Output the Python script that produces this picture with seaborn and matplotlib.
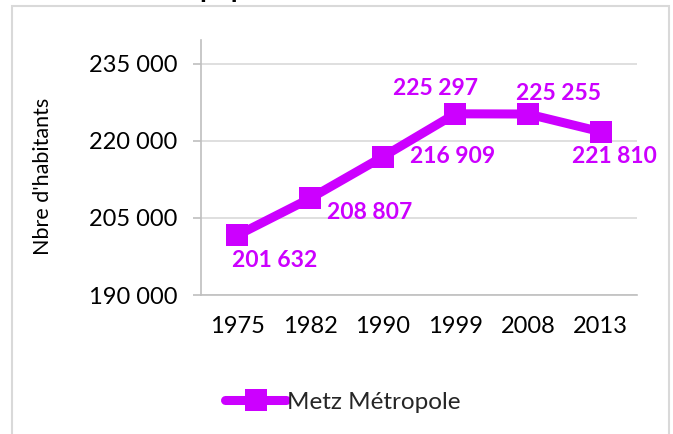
import matplotlib
matplotlib.use("Agg")
import matplotlib.pyplot as plt
import seaborn as sns
import pandas as pd
import numpy as np
from matplotlib.patches import Rectangle
from matplotlib.ticker import FuncFormatter, FixedLocator

# Data
years = ["1975", "1982", "1990", "1999", "2008", "2013"]
habitants = [201632, 208807, 216909, 225297, 225255, 221810]
series_name = "Metz Métropole"
y_ticks = [190000, 205000, 220000, 235000]
y_label = "Nbre d'habitants"
title = "Evolution de la population"

MAGENTA = "#CC00FF"
GRID = "#D9D9D9"
AXIS = "#BFBFBF"


def fmt(v):
    return f"{int(round(v)):,}".replace(",", " ")


sns.set_style("white")
plt.rcParams["font.family"] = ["Lato", "DejaVu Sans"]

df = pd.DataFrame({"pos": np.arange(len(years)), "annee": years, "habitants": habitants})

fig = plt.figure(figsize=(6.73, 4.34), dpi=100)
ax = fig.add_axes([201 / 673, 1 - 295 / 434, (637 - 201) / 673, (295 - 40) / 434])

sns.lineplot(data=df, x="pos", y="habitants", ax=ax, color=MAGENTA, linewidth=6.5,
             marker="s", markersize=16, markeredgewidth=0, label=series_name,
             solid_capstyle="round")

ax.set_xlim(-0.5, len(years) - 0.5)
ax.set_ylim(190000, 239675)

ax.set_xticks(df["pos"])
ax.set_xticklabels(years)
ax.xaxis.set_minor_locator(FixedLocator(np.arange(-0.5, len(years), 1.0)))
ax.set_yticks(y_ticks)
ax.yaxis.set_major_formatter(FuncFormatter(lambda v, _: fmt(v)))

ax.tick_params(axis="x", which="major", length=0, pad=15, labelsize=17, colors="black")
ax.tick_params(axis="x", which="minor", length=6, width=1.2, color=AXIS, direction="out")
ax.tick_params(axis="y", length=6, width=1.2, color=AXIS, pad=11, labelsize=17,
               labelcolor="black", direction="out", left=True)

ax.grid(axis="y", color=GRID, linewidth=1.2)
ax.grid(axis="x", visible=False)
ax.set_axisbelow(True)
for side in ["top", "right"]:
    ax.spines[side].set_visible(False)
for side in ["left", "bottom"]:
    ax.spines[side].set_color(AXIS)
    ax.spines[side].set_linewidth(1.2)

ax.set_xlabel("")
ax.set_ylabel(y_label, fontsize=15.5, color="black")
ax.yaxis.set_label_coords(-0.34, 0.465)

# data labels, placed by hand like in the original chart
offsets = [(37, -25), (60, -14), (70, 0), (-20, 25), (31, 21), (14, -25)]
for (p, v), (dx, dy) in zip(zip(df["pos"], df["habitants"]), offsets):
    ax.annotate(fmt(v), xy=(p, v), xytext=(dx, dy), textcoords="offset pixels",
                ha="center", va="center", fontsize=16.5, fontweight="bold",
                color=MAGENTA)

ax.get_legend().remove()
handles, labels = ax.get_legend_handles_labels()
fig.legend(handles, labels, loc="center", bbox_to_anchor=(343 / 673, 1 - 402 / 434),
           frameon=False, fontsize=17.5, handlelength=2.5, handletextpad=0.05)

# outer chart frame and clipped title (only its descenders show, as in the original)
fig.patches.append(Rectangle((12 / 673, -0.05), (669 - 12) / 673, 0.05 + 1 - 6 / 434,
                             transform=fig.transFigure, fill=False,
                             edgecolor=GRID, linewidth=1.5))
fig.text(199 / 673, 1 + 3.5 / 434, "population", ha="left", va="baseline",
         fontsize=20, fontweight="bold", color="black")
fig.text(199 / 673, 1 + 3.5 / 434, "Evolution de la", ha="right", va="baseline",
         fontsize=20, fontweight="bold", color="black")

fig.savefig("out.png", dpi=100)
